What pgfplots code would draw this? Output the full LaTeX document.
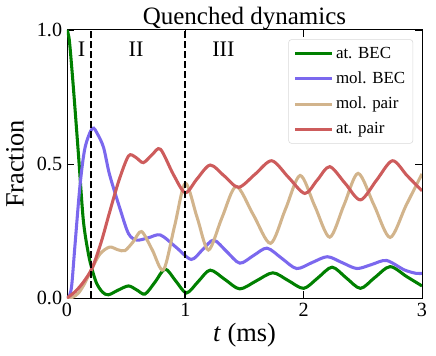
\documentclass[border=0pt]{standalone}
\usepackage{fontspec}
\setmainfont{Liberation Serif}
\usepackage{pgfplots}
\pgfplotsset{compat=1.18}
\definecolor{cgreen}{RGB}{0,128,0}
\definecolor{cpurple}{RGB}{123,104,238}
\definecolor{ctan}{RGB}{210,180,140}
\definecolor{cred}{RGB}{205,92,92}
\begin{document}
\begin{tikzpicture}
\begin{axis}[
    width=255.6pt, height=193pt, scale only axis,
    xmin=0, xmax=3, ymin=0, ymax=1,
    xtick={0,1,2,3}, ytick={0,0.5,1},
    /pgf/number format/assume math mode=true,
    yticklabel style={/pgf/number format/.cd, fixed, fixed zerofill, precision=1},
    tick align=inside, major tick length=5pt,
    tick style={black, line width=0.6pt},
    axis line style={black, line width=0.7pt},
    tick label style={font=\fontsize{14.5}{16}\selectfont},
    label style={font=\fontsize{19}{21}\selectfont},
    xlabel style={at={(axis description cs:0.5,0)}, anchor=base, yshift=-31.5pt},
    ylabel style={at={(axis description cs:-0.1463,0.5)}, anchor=center},
    title style={font=\fontsize{18}{20}\selectfont, at={(axis description cs:0.5,1)}, anchor=base, yshift=-2.4pt},
    title={Quenched dynamics},
    xlabel={\textit{t} (ms)},
    ylabel={Fraction},
    legend cell align=left,
    legend style={at={(0.975,0.965)}, anchor=north east, draw=black!15,
        rounded corners=2pt, font=\fontsize{12.2}{14}\selectfont,
        row sep=4.2pt, inner sep=3.5pt},
    legend image code/.code={\draw[#1] (0pt,0pt) -- (26.4pt,0pt);},
    every axis plot/.append style={line width=2.2pt, smooth, no markers},
]
\addplot[cgreen] coordinates {
(0,1.0) (0.02,0.96) (0.053,0.79) (0.096,0.54) (0.138,0.29) (0.18,0.167)
(0.21,0.11) (0.25,0.055) (0.3,0.022) (0.35,0.012) (0.435,0.03) (0.52,0.045)
(0.59,0.03) (0.66,0.015) (0.745,0.06) (0.83,0.108) (0.92,0.063) (1.01,0.019)
(1.11,0.062) (1.21,0.104) (1.335,0.069) (1.46,0.034) (1.6,0.064) (1.74,0.094)
(1.87,0.065) (2.0,0.036) (2.12,0.075) (2.24,0.115) (2.36,0.075) (2.48,0.036)
(2.6,0.076) (2.73,0.117) (2.87,0.08) (3.0,0.045)};
\addlegendentry{at. BEC}
\addplot[cpurple] coordinates {
(0,0) (0.02,0.008) (0.04,0.048) (0.068,0.2) (0.11,0.42) (0.152,0.56)
(0.214,0.633) (0.26,0.61) (0.31,0.56) (0.36,0.46) (0.45,0.33) (0.52,0.24)
(0.59,0.216) (0.69,0.225) (0.79,0.235) (0.92,0.19) (1.05,0.144) (1.145,0.18)
(1.24,0.216) (1.35,0.173) (1.46,0.13) (1.575,0.158) (1.69,0.186) (1.815,0.148)
(1.94,0.11) (2.07,0.132) (2.2,0.154) (2.325,0.132) (2.45,0.11) (2.575,0.125)
(2.7,0.14) (2.85,0.105) (2.95,0.092) (3.0,0.092)};
\addlegendentry{mol. BEC}
\addplot[ctan] coordinates {
(0,0) (0.05,0.003) (0.1,0.02) (0.15,0.055) (0.214,0.113) (0.28,0.165)
(0.36,0.19) (0.43,0.18) (0.49,0.177) (0.56,0.21) (0.63,0.248) (0.72,0.18)
(0.815,0.105) (0.91,0.27) (1.0,0.428) (1.1,0.3) (1.195,0.179) (1.31,0.3)
(1.43,0.416) (1.575,0.31) (1.72,0.204) (1.845,0.33) (1.97,0.457) (2.095,0.342)
(2.22,0.227) (2.34,0.346) (2.46,0.465) (2.595,0.346) (2.73,0.226) (2.865,0.345)
(3.0,0.463)};
\addlegendentry{mol. pair}
\addplot[cred] coordinates {
(0,0) (0.07,0.024) (0.14,0.06) (0.214,0.113) (0.29,0.21) (0.36,0.32)
(0.44,0.44) (0.52,0.53) (0.58,0.525) (0.645,0.505) (0.72,0.535) (0.79,0.555)
(0.9,0.46) (1.0,0.393) (1.1,0.445) (1.21,0.496) (1.33,0.455) (1.45,0.413)
(1.59,0.462) (1.73,0.512) (1.87,0.451) (2.01,0.39) (2.115,0.44) (2.22,0.49)
(2.35,0.428) (2.48,0.366) (2.615,0.439) (2.75,0.512) (2.875,0.456) (3.0,0.40)};
\addlegendentry{at. pair}
\addplot[black, line width=1.4pt, dash pattern=on 4.8pt off 2.4pt, sharp plot, forget plot] coordinates {(0.2,0) (0.2,1)};
\addplot[black, line width=1.4pt, dash pattern=on 4.8pt off 2.4pt, sharp plot, forget plot] coordinates {(1,0) (1,1)};
\node[font=\fontsize{16}{18}\selectfont] at (axis cs:0.124,0.928) {I};
\node[font=\fontsize{16}{18}\selectfont] at (axis cs:0.584,0.928) {II};
\node[font=\fontsize{16}{18}\selectfont] at (axis cs:1.322,0.928) {III};
\end{axis}
\pgfresetboundingbox
\useasboundingbox (-48.24pt,-41.04pt) rectangle (265.68pt,214.56pt);
\end{tikzpicture}
\end{document}
